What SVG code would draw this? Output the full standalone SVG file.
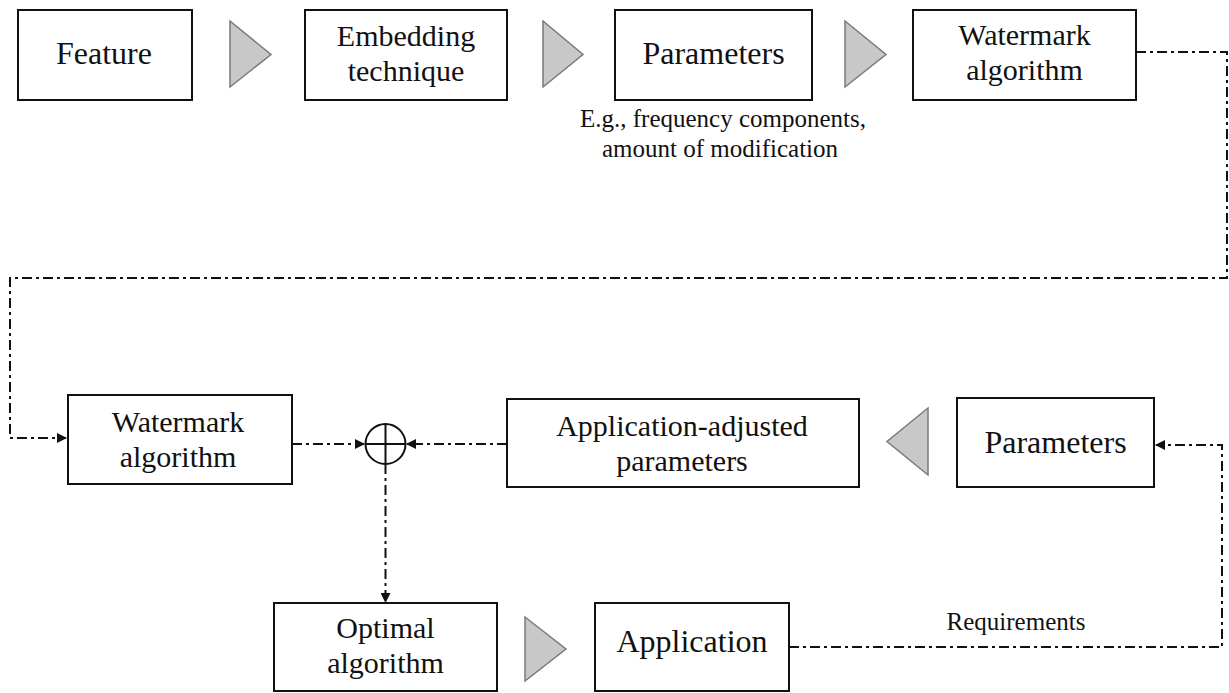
<svg xmlns="http://www.w3.org/2000/svg" width="1229" height="693" viewBox="0 0 1229 693">
<style>
.box{fill:#fff;stroke:#111;stroke-width:2}
.tri{fill:#c8c8c8;stroke:#7a7a7a;stroke-width:1.5}
.t{font-family:"Liberation Serif","Times New Roman",serif;font-size:32px;fill:#111;text-anchor:middle}
.t2{font-family:"Liberation Serif","Times New Roman",serif;font-size:30px;fill:#111;text-anchor:middle}
.s{font-family:"Liberation Serif","Times New Roman",serif;font-size:25px;fill:#111;text-anchor:middle}
.c{fill:none;stroke:#111;stroke-width:2;stroke-dasharray:10,4,3,4}
.sum{fill:#fff;stroke:#111;stroke-width:2}
</style>
<defs>
<marker id="ah" markerWidth="10" markerHeight="10" refX="9" refY="5" orient="auto" markerUnits="userSpaceOnUse">
<path d="M0,0 L10,5 L0,10 Z" fill="#111"/>
</marker>
</defs>
<rect width="1229" height="693" fill="#fff"/>
<g id="connectors">
<path class="c" d="M1136,52 H1227 V278 H10 V438 H66" marker-end="url(#ah)"/>
<path class="c" d="M292,444 H364" marker-end="url(#ah)"/>
<path class="c" d="M507,444 H407" marker-end="url(#ah)"/>
<path class="c" d="M385.5,464 V602" marker-end="url(#ah)"/>
<path class="c" d="M789,647 H1222 V445 H1156" marker-end="url(#ah)"/>
<text class="s" x="1016" y="630">Requirements</text>
</g>
<g id="feature"><rect class="box" x="18" y="10" width="174" height="90"/><text class="t" x="104" y="64">Feature</text></g>
<g id="tri1"><polygon class="tri" points="230,21 271,54.5 230,87"/></g>
<g id="embedding"><rect class="box" x="305" y="10" width="202" height="90"/><text class="t2" x="406" y="46">Embedding</text><text class="t2" x="406" y="81">technique</text></g>
<g id="tri2"><polygon class="tri" points="543,21 583,54.5 543,87"/></g>
<g id="parameters-top"><rect class="box" x="615" y="10" width="197" height="90"/><text class="t" x="713.5" y="64">Parameters</text>
<text class="s" x="723" y="127">E.g., frequency components,</text><text class="s" x="720" y="157">amount of modification</text></g>
<g id="tri3"><polygon class="tri" points="845,21 886,54.5 845,87"/></g>
<g id="watermark-top"><rect class="box" x="913" y="10" width="223" height="90"/><text class="t2" x="1024.5" y="45">Watermark</text><text class="t2" x="1024.5" y="80">algorithm</text></g>
<g id="watermark-bottom"><rect class="box" x="68" y="395" width="224" height="89"/><text class="t2" x="178" y="432">Watermark</text><text class="t2" x="178" y="467">algorithm</text></g>
<g id="sum"><circle class="sum" cx="385.5" cy="444" r="20"/><path d="M365.5,444 H405.5 M385.5,424 V464" stroke="#111" stroke-width="2"/></g>
<g id="app-adjusted"><rect class="box" x="507" y="399" width="352" height="88"/><text class="t2" x="682" y="436">Application-adjusted</text><text class="t2" x="682" y="471">parameters</text></g>
<g id="tri4"><polygon class="tri" points="928,408 887,441.5 928,475"/></g>
<g id="parameters-bottom"><rect class="box" x="957" y="398" width="197" height="89"/><text class="t" x="1055.5" y="453">Parameters</text></g>
<g id="optimal"><rect class="box" x="274" y="603" width="223" height="88"/><text class="t2" x="385.5" y="638">Optimal</text><text class="t2" x="385.5" y="673">algorithm</text></g>
<g id="tri5"><polygon class="tri" points="525,617 566,649 525,681"/></g>
<g id="application"><rect class="box" x="595" y="603" width="194" height="88"/><text class="t" x="692" y="652">Application</text></g>
</svg>
